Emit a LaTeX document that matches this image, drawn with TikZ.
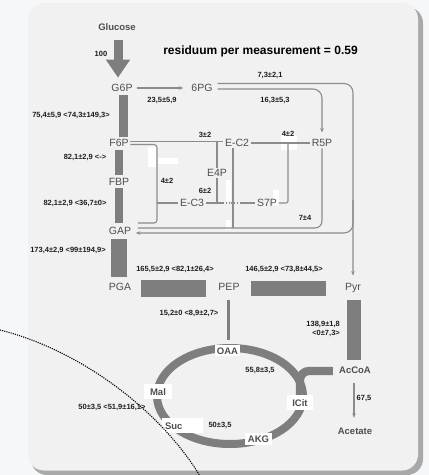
\documentclass[tikz,border=0pt]{standalone}
\usepackage{fontspec}
\setmainfont{Liberation Sans}
\usetikzlibrary{arrows.meta}
\definecolor{bgc}{HTML}{F6F7F8}
\definecolor{panelc}{HTML}{F1F1F1}
\definecolor{shadowc}{HTML}{A9A9A9}
\definecolor{barc}{HTML}{7E7E7E}
\definecolor{lnc}{HTML}{8C8C8C}
\definecolor{metc}{HTML}{4E4E4E}
\definecolor{numc}{HTML}{1E1E1E}
\begin{document}
\begin{tikzpicture}[x=1pt,y=-1pt,
  met/.style={font=\fontsize{10.5}{12}\selectfont, text=metc, inner sep=1.5pt, text height=7.4pt, text depth=0pt},
  metb/.style={font=\fontsize{9.5}{11}\selectfont\bfseries, text=metc, inner sep=1.5pt, text height=7pt, text depth=0pt},
  tca/.style={font=\fontsize{9.5}{11}\selectfont\bfseries, text=metc, fill=white, inner sep=0pt, text height=7pt, text depth=0pt},
  num/.style={font=\fontsize{7.5}{8.5}\selectfont\bfseries, text=numc, inner sep=0pt},
  ln/.style={draw=lnc, line width=1.1pt},
  arr/.style={ln, -{Stealth[length=4.5pt,width=3.6pt]}},
  bar/.style={draw=barc},
  patch/.style={fill=white}]
\useasboundingbox (0,0) rectangle (429,475);
\fill[bgc] (0,0) rectangle (429,475);
% panel with shadow
\fill[shadowc, rounded corners=16pt] (31,7) rectangle (423,475);
\fill[panelc, rounded corners=16pt] (28,3) rectangle (418,470.5);
% white artefact patches
\fill[patch] (148,147) rectangle (156,167);
\fill[patch] (158,158) rectangle (178,164);
\fill[patch] (226,180) rectangle (231,201);
\fill[patch] (226,220) rectangle (231,230);
\fill[patch] (273,190) rectangle (279,205);
\fill[patch] (281,135) rectangle (297,150);

% metabolites
\node[metb] (Glucose) at (117,27) {Glucose};
\node[met] (G6P) at (122,88) {G6P};
\node[met] (PG6) at (202,88) {6PG};
\node[met] (F6P) at (119,143) {F6P};
\node[met] (FBP) at (119,182) {FBP};
\node[met] (GAP) at (120,231) {GAP};
\node[met] (PGA) at (120,287) {PGA};
\node[met] (PEP) at (229,287) {PEP};
\node[met] (Pyr) at (353,287) {Pyr};
\node[met] (EC2) at (237,143) {E-C2};
\node[met] (R5P) at (322,143) {R5P};
\node[met] (E4P) at (217,173) {E4P};
\node[met] (EC3) at (192,203) {E-C3};
\node[met] (S7P) at (267,203) {S7P};
\node[metb] (AcCoA) at (355,370) {AcCoA};
\node[metb] (Acetate) at (355,431) {Acetate};

% title
\node[font=\fontsize{12}{14}\selectfont\bfseries, text=black, inner sep=0pt] (title) at (260.5,51) {residuum per measurement = 0.59};

% glycolysis arrow and bars
\draw[barc, line width=9pt, -{Triangle[length=18pt,width=23pt]}, shorten <=8pt, shorten >=4.9pt]
  ([xshift=1pt]Glucose.south) -- ([xshift=1pt]Glucose.south |- G6P.north);
\draw[bar, line width=8.4pt, shorten <=2pt, shorten >=1pt] ([xshift=1.5pt]G6P.south) -- ([xshift=4.5pt]F6P.north);
\draw[bar, line width=8pt, shorten <=2pt, shorten >=2pt] (F6P.south) -- (FBP.north);
\draw[bar, line width=8pt, shorten <=1pt, shorten >=3pt] (FBP.south) -- ([xshift=-1pt]GAP.north);
\draw[bar, line width=16.6pt, shorten <=3pt, shorten >=5pt] ([xshift=-1pt]GAP.south) -- ([xshift=-1pt]PGA.north);
\draw[bar, line width=17pt, shorten <=8pt, shorten >=10.5pt] ([yshift=-1.5pt]PGA.east) -- ([yshift=-1.5pt]PEP.west);
\draw[bar, line width=15pt, shorten <=9.5pt, shorten >=17pt] ([yshift=-1.5pt]PEP.east) -- ([yshift=-1.5pt]Pyr.west);
\draw[bar, line width=14pt, shorten <=8pt, shorten >=5pt] ([xshift=1pt]Pyr.south) -- ([xshift=-1pt]AcCoA.north);
\draw[arr, shorten <=2.5pt, shorten >=6.5pt] (G6P.east) -- (PG6.west);

% PPP network
\coordinate (topL) at (0,141.5);
\coordinate (lowL) at (0,228);
\coordinate (brk) at (157,203);
\coordinate (d1) at (223,203);
\coordinate (d2) at (241,203);
\coordinate (s7up) at (288,143);
\coordinate (jn) at (353,200);
\draw[ln] ([yshift=1.5pt]F6P.east) -- (EC2.west |- topL);
\draw[ln, rounded corners=3pt] ([yshift=-1.5pt]F6P.east) -| (brk) |- ([xshift=5pt,yshift=8pt]GAP.east);
\draw[ln] (brk) -- (EC3.west);
\draw[ln] (E4P.north) -- (E4P.north |- topL);
\draw[ln] (E4P.south) -- (E4P.south |- EC3.east);
\draw[ln] (EC3.east) -- (d1);
\draw[ln, dash pattern=on 1.2pt off 1.6pt] (d1) -- (d2);
\draw[ln] (d2) -- (S7P.west);
\draw[ln] (EC2.east) -- (R5P.west);
\draw[ln, rounded corners=2pt] (S7P.east) -| (s7up);
\draw[ln] ([xshift=-4pt]EC2.south) -- ([xshift=-4pt]EC2.south |- lowL);
\draw[ln, rounded corners=7pt] (R5P.south) |- ([xshift=5pt,yshift=3pt]GAP.east);
\draw[arr, rounded corners=9pt, shorten <=3.5pt, shorten >=6pt] ([yshift=4.5pt]PG6.east) -| (Pyr.north);
\draw[arr, rounded corners=9pt] (jn) |- ([xshift=3pt,yshift=-2pt]GAP.east);
\draw[arr, rounded corners=9pt, shorten <=3.5pt, shorten >=5pt] ([yshift=-1pt]PG6.east) -| (R5P.north);

% TCA cycle
\draw[barc, line width=8pt] (230,396) ellipse [x radius=73pt, y radius=48pt];
\node[tca, minimum width=41pt, minimum height=15pt, text width=35pt, align=left] (Suc) at (182.5,425.5) {Suc};
\draw[bar, line width=8.3pt, rounded corners=9pt, shorten <=4.5pt] ([yshift=-1pt]AcCoA.west) -| (300,395);
\node[tca, minimum width=25pt, minimum height=11pt] (OAA) at (227.5,350.5) {OAA};
\node[tca, minimum width=28pt, minimum height=15pt] (Mal) at (158,391.5) {Mal};
\node[tca, minimum width=26pt, minimum height=15pt] (ICit) at (300,402.5) {ICit};
\node[tca, minimum width=27pt, minimum height=12pt] (AKG) at (258.5,439) {AKG};
\draw[bar, line width=3pt, shorten <=8pt, shorten >=5pt] ([xshift=-1pt]PEP.south) -- ([xshift=0.5pt]OAA.north);
\draw[arr, shorten <=8pt, shorten >=8pt] ([xshift=-1pt]AcCoA.south) -- ([xshift=-1pt]Acetate.north);

% flux values
\node[num] (n1) at (101,54) {100};
\node[num] (n2) at (162,100) {23,5±5,9};
\node[num] (n3) at (71,115) {75,4±5,9 <74,3±149,3>};
\node[num] (n4) at (85,157) {82,1±2,9 <->};
\node[num] (n5) at (75,203) {82,1±2,9 <36,7±0>};
\node[num] (n6) at (68,250) {173,4±2,9 <99±194,9>};
\node[num] (n7) at (175,269) {165,5±2,9 <82,1±26,4>};
\node[num] (n8) at (284,269) {146,5±2,9 <73,8±44,5>};
\node[num] (n9) at (189,313) {15,2±0 <8,9±2,7>};
\node[num, align=right, anchor=east] (n10) at (340,329) {138,9±1,8\\<0±7,3>};
\node[num] (n11) at (260,370) {55,8±3,5};
\node[num] (n12) at (220,425) {50±3,5};
\node[num] (n13) at (112,407) {50±3,5 <51,9±16,1>};
\node[num] (n14) at (364,398) {67,5};
\node[num] (n15) at (270,75) {7,3±2,1};
\node[num] (n16) at (275,100) {16,3±5,3};
\node[num] (n17) at (205,135) {3±2};
\node[num] (n18) at (288,134) {4±2};
\node[num] (n19) at (167,181) {4±2};
\node[num] (n20) at (205,191) {6±2};
\node[num] (n21) at (305,218) {7±4};

% dotted arc
\draw[black, line width=1.1pt, dash pattern=on 1.1pt off 1.1pt] (0,330) .. controls (80,350) and (160,410) .. (200,476);
\end{tikzpicture}
\end{document}
